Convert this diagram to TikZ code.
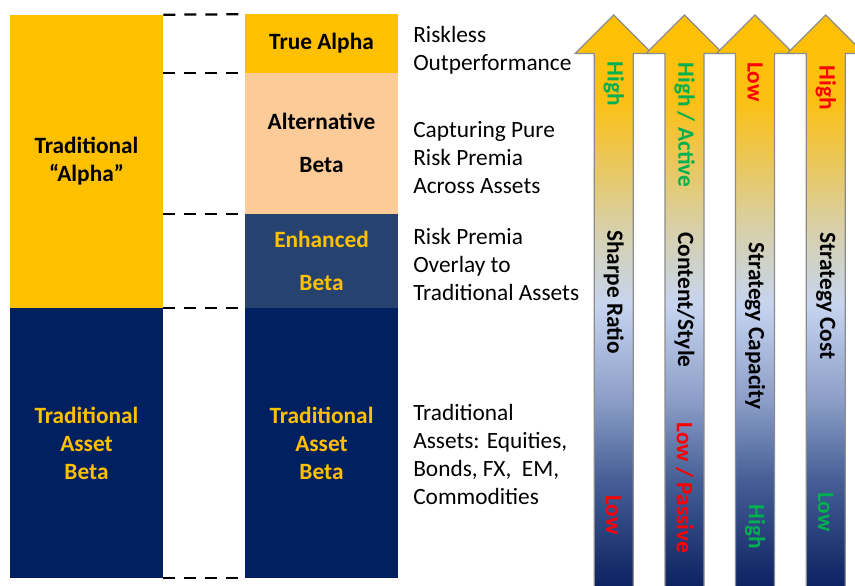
\documentclass[tikz,border=0pt]{standalone}
\usepackage{fontspec}
\setmainfont{Carlito}

\definecolor{alphagold}{HTML}{FFC000}
\definecolor{altpeach}{HTML}{FDCB98}
\definecolor{enhblue}{HTML}{264370}
\definecolor{betanavy}{HTML}{002060}
\definecolor{lvlgreen}{HTML}{00B050}
\definecolor{lvlred}{HTML}{FF0000}
\definecolor{arrowgray}{HTML}{8C8C8C}
% gradient stops of the up arrows (navy at the foot, gold at the tip)
\definecolor{sh0}{HTML}{0A2060}
\definecolor{sh1}{HTML}{465F96}
\definecolor{sh2}{HTML}{8C9EC8}
\definecolor{sh3}{HTML}{C6D4F0}
\definecolor{sh4}{HTML}{D7D0AA}
\definecolor{sh5}{HTML}{E8C864}
\definecolor{sh6}{HTML}{FCC014}
\definecolor{sh7}{HTML}{FFC000}
\pgfdeclareverticalshading{arrowfade}{100bp}{color(0bp)=(sh0); color(25bp)=(sh0);
  color(34.6bp)=(sh1); color(41.5bp)=(sh2); color(49.8bp)=(sh3); color(56.3bp)=(sh4);
  color(61.5bp)=(sh5); color(67.6bp)=(sh6); color(75bp)=(sh7); color(100bp)=(sh7)}

\begin{document}
\begin{tikzpicture}[x=0.75pt, y=-0.75pt, font=\fontsize{17.5}{21}\selectfont,
  block/.style={rectangle, inner sep=0pt, minimum width=114.75pt, align=center, font=\fontsize{17.5}{21}\selectfont\bfseries},
  note/.style={anchor=west, inner sep=0pt, align=left},
  gap/.style={dash pattern=on 9pt off 6.75pt, line width=1.7pt},
  bar/.style={draw=arrowgray, line width=1pt, shading=arrowfade},
  tag/.style={rotate=-90, inner sep=0pt, font=\fontsize{17.5}{21}\selectfont\bfseries}]
\clip (0,0) rectangle (855,585);

% Left column
\node[block, fill=alphagold, minimum height=219.75pt] (tradalpha) at (86.5,161.5) {Traditional\\“Alpha”};
\node[block, fill=betanavy, text=alphagold, minimum height=202.5pt] (tradbeta) at (86.5,443) {Traditional\\Asset\\Beta};

% Middle column
\node[block, fill=alphagold, minimum height=43.5pt] (truealpha) at (321.5,43.5) {True Alpha};
\node[block, fill=altpeach, minimum height=105.75pt] (altbeta) at (321.5,143) {Alternative\\[11pt]Beta};
\node[block, fill=enhblue, text=alphagold, minimum height=70.875pt] (enhbeta) at (321.5,260.75) {Enhanced\\[11pt]Beta};
\node[block, fill=betanavy, text=alphagold, minimum height=202.5pt] (assetbeta) at (321.5,443) {Traditional\\Asset\\Beta};

% Dashed links between the columns
\draw[gap] (tradalpha.north east) -- (truealpha.north west);
\draw[gap] (tradalpha.east |- truealpha.south) -- (truealpha.south west);
\draw[gap] (tradalpha.east |- altbeta.south) -- (altbeta.south west);
\draw[gap] (tradalpha.south east) -- (enhbeta.south west);
\draw[gap] (tradbeta.south east) -- (assetbeta.south west);

% Descriptions
\node[note] (riskless) at (413,50) {Riskless\\Outperformance};
\node[note] (purepremia) at (413,158) {Capturing Pure\\Risk Premia\\Across Assets};
\node[note] (overlay) at (413,264) {Risk Premia\\Overlay to\\Traditional Assets};
\node[note] (assets) at (413,454) {Traditional\\Assets: Equities,\\Bonds, FX,~ EM,\\Commodities};

% Up arrows
\foreach \c in {613.7,684.5,755,825.7}
  \draw[bar] (\c-19.5,590) -- (\c-19.5,53.5) -- (\c-38.5,53.5) -- (\c,15)
    -- (\c+38.5,53.5) -- (\c+19.5,53.5) -- (\c+19.5,590) -- cycle;

% Arrow labels
\node[tag, text=lvlgreen] (sharpehi) at (613.7,84) {High};
\node[tag] (sharpe) at (613.7,292) {Sharpe Ratio};
\node[tag, text=lvlred] (sharpelo) at (613.7,515) {Low};
\node[tag, text=lvlgreen] (stylehi) at (684.5,125) {High / Active};
\node[tag] (style) at (684.5,300) {Content/Style};
\node[tag, text=lvlred] (stylelo) at (684.5,488) {Low / Passive};
\node[tag, text=lvlred] (capacitylo) at (755,82) {Low};
\node[tag] (capacity) at (755,326) {Strategy Capacity};
\node[tag, text=lvlgreen] (capacityhi) at (755,527) {High};
\node[tag, text=lvlred] (costhi) at (825.7,88) {High};
\node[tag] (cost) at (825.7,296) {Strategy Cost};
\node[tag, text=lvlgreen] (costlo) at (825.7,512) {Low};
\end{tikzpicture}
\end{document}
